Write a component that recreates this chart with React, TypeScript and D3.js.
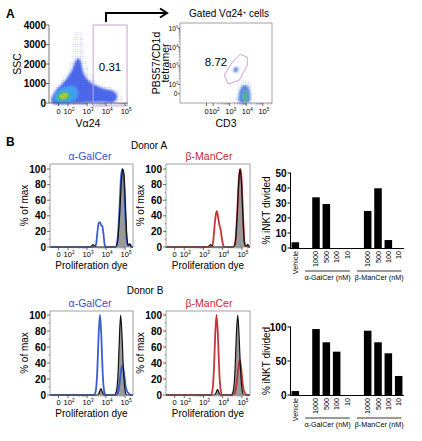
import React from 'react';
import * as d3 from 'd3';

const FONT = '"Liberation Sans", Arial, Helvetica, sans-serif';

// ---------------- Panel A (left): Va24 vs SSC ----------------
const sscTicks = [0, 1000, 2000, 3000, 4000];
const logTickPos = [1.5, 2, 3, 4, 5];
const logTickLabels = ['0', '2', '3', '4', '5'];
const va24GateX = [3.32, 5.1];
const va24GateY = [-150, 4000];
const va24GateLabel = '0.31';
const sscSparse: [number, number][] = [
  [1.11, 0], [1.11, 359], [1.32, 769], [1.68, 1282], [2.0, 1692], [2.16, 2205], [2.21, 2974],
  [2.32, 3487], [2.47, 3692], [2.68, 3590], [2.84, 3128], [2.89, 2462], [3.05, 1897], [3.32, 1385],
  [3.68, 974], [4.21, 821], [4.63, 667], [4.84, 359], [4.74, 0],
];
const sscBlue: [number, number][] = [
  [1.16, 0], [1.16, 308], [1.37, 667], [1.68, 974], [1.95, 1282], [2.21, 1692], [2.37, 2103],
  [2.53, 2308], [2.68, 2103], [2.79, 1590], [3.05, 1179], [3.42, 923], [3.95, 718], [4.37, 615],
  [4.58, 359], [4.42, 51], [3.68, 51], [2.63, 0],
];
const sscCyan: [number, number][] = [
  [1.26, 154], [1.32, 462], [1.53, 667], [1.84, 821], [2.16, 872], [2.42, 769], [2.53, 513],
  [2.42, 205], [2.11, 51], [1.58, 51],
];
const sscGreen: [number, number][] = [
  [1.42, 205], [1.47, 410], [1.68, 564], [1.95, 564], [2.11, 462], [2.05, 256], [1.79, 154], [1.53, 154],
];
const sscYellow: [number, number][] = [
  [1.58, 308], [1.68, 410], [1.84, 462], [1.95, 410], [1.89, 308], [1.74, 256],
];
const sscRed: [number, number][] = [[1.68, 333], [1.79, 410], [1.87, 385], [1.79, 308]];

// ---------------- Panel A (right): CD3 vs tetramer ----------------
const tetGate: [number, number][] = [
  [3.15, 3.19], [3.64, 3.62], [4.06, 3.46], [4.06, 3.03], [3.58, 2.23], [2.91, 2.02], [2.67, 2.5],
];
const tetGateLabel = '8.72';
const tetSparse: [number, number][] = [
  [3.39, 1.0], [3.45, 1.59], [3.64, 2.02], [3.88, 2.23], [4.18, 2.12], [4.36, 1.8], [4.42, 1.37], [4.36, 1.0],
];
const tetBlue: [number, number][] = [
  [3.58, 1.05], [3.58, 1.59], [3.76, 1.91], [4.0, 1.96], [4.18, 1.75], [4.24, 1.37], [4.18, 1.05],
];
const tetGreen: [number, number][] = [
  [3.82, 1.16], [3.82, 1.53], [3.94, 1.7], [4.06, 1.53], [4.06, 1.16], [3.94, 1.05],
];
const tetGated: [number, number][] = [[3.21, 2.76], [3.33, 2.93], [3.52, 2.87], [3.45, 2.66], [3.27, 2.66]];

// ---------------- Panel B: histograms (log units, % of max) ----------------
const histTicks = [0, 20, 40, 60, 80, 100];
const ctrlA_ag: [number, number][] = [
  [1.05, 0], [3.15, 0], [3.25, 1.5], [3.32, 3], [3.4, 1.5], [3.5, 0], [4.5, 0], [4.6, 6], [4.7, 35],
  [4.8, 80], [4.88, 100], [4.95, 92], [5.03, 50], [5.1, 12], [5.17, 2], [5.23, 3], [5.28, 3], [5.34, 0], [5.42, 0],
];
const treatA_ag: [number, number][] = [
  [1.05, 0], [3.4, 0], [3.48, 4], [3.55, 20], [3.62, 31], [3.68, 32], [3.74, 28], [3.8, 27], [3.86, 18],
  [3.92, 4], [3.98, 0], [4.5, 0], [4.6, 8], [4.7, 45], [4.79, 90], [4.86, 100], [4.93, 90], [5.0, 50],
  [5.08, 12], [5.15, 2], [5.22, 4], [5.28, 3], [5.35, 0], [5.42, 0],
];
const ctrlA_bm: [number, number][] = [
  [1.05, 0], [3.2, 0], [3.3, 1.5], [3.37, 3], [3.45, 1.5], [3.55, 0], [4.55, 0], [4.65, 5], [4.75, 40],
  [4.84, 85], [4.9, 100], [4.97, 85], [5.05, 40], [5.12, 8], [5.2, 1], [5.27, 2], [5.31, 3], [5.36, 1], [5.42, 0],
];
const treatA_bm: [number, number][] = [
  [1.05, 0], [3.42, 0], [3.5, 6], [3.58, 28], [3.66, 44], [3.7, 46], [3.76, 38], [3.83, 28], [3.88, 24],
  [3.95, 12], [4.03, 2], [4.1, 0], [4.55, 0], [4.65, 6], [4.75, 40], [4.84, 88], [4.91, 100], [4.98, 88],
  [5.06, 40], [5.13, 6], [5.2, 1], [5.28, 2], [5.35, 0], [5.42, 0],
];
const ctrlB_ag: [number, number][] = [
  [1.05, 0], [3.55, 0], [3.64, 3], [3.73, 8], [3.82, 3], [3.9, 0], [4.45, 0], [4.55, 5], [4.64, 30],
  [4.71, 75], [4.77, 100], [4.84, 75], [4.92, 30], [5.0, 6], [5.08, 0], [5.42, 0],
];
const treatB_ag: [number, number][] = [
  [1.05, 0], [3.38, 0], [3.46, 5], [3.54, 30], [3.61, 75], [3.68, 100], [3.75, 75], [3.82, 30], [3.9, 5],
  [3.98, 0], [4.55, 0], [4.65, 5], [4.74, 20], [4.82, 34], [4.87, 37], [4.95, 27], [5.04, 10], [5.12, 4],
  [5.2, 2], [5.28, 0], [5.42, 0],
];
const ctrlB_bm: [number, number][] = [
  [1.05, 0], [3.55, 0], [3.64, 2], [3.73, 7], [3.82, 2], [3.9, 0], [4.45, 0], [4.55, 5], [4.64, 30],
  [4.71, 75], [4.78, 100], [4.85, 75], [4.93, 30], [5.01, 6], [5.09, 0], [5.42, 0],
];
const treatB_bm: [number, number][] = [
  [1.05, 0], [3.38, 0], [3.46, 5], [3.54, 30], [3.61, 75], [3.68, 100], [3.75, 75], [3.82, 30], [3.9, 5],
  [3.98, 0], [4.55, 0], [4.65, 4], [4.75, 20], [4.84, 38], [4.89, 44], [4.96, 34], [5.05, 12], [5.12, 4],
  [5.2, 1], [5.28, 0], [5.42, 0],
];

// ---------------- Panel B: bar charts ----------------
const barSlots = ['Vehicle', 'gap1', 'α1000', 'α500', 'α100', 'α10', 'gap2', 'β1000', 'β500', 'β100', 'β10'];
const barKeys = ['Vehicle', 'α1000', 'α500', 'α100', 'α10', 'β1000', 'β500', 'β100', 'β10'];
const barLabels = ['Vehicle', '1000', '500', '100', '10', '1000', '500', '100', '10'];
const donorAValues = [3.8, 33.8, 29.3, 0, 0, 24.7, 39.8, 5.3, 0];
const donorBValues = [5.8, 97, 77.5, 63.7, 0, 94.6, 77.5, 61.3, 28];
const donorATicks = [0, 10, 20, 30, 40, 50];
const donorBTicks = [0, 50, 100];
const groupLabels = ['α-GalCer (nM)', 'β-ManCer (nM)'];
const groupFirst = ['α1000', 'β1000'];
const groupLast = ['α10', 'β10'];

const BLUE = '#2e55cf';
const RED = '#c32a2e';

function LogLabel({ x, y, label, size }: { x: number; y: number; label: string; size: number }) {
  if (label === '0') return <text x={x} y={y} fontSize={size} textAnchor="middle" fill="#000">0</text>;
  return (
    <text x={x} y={y} fontSize={size} textAnchor="middle" fill="#000">
      10<tspan dy={-size * 0.42} fontSize={size * 0.62}>{label}</tspan>
    </text>
  );
}

function minorLogs(lo: number, hi: number) {
  const out: number[] = [];
  for (let d = 2; d <= 5; d++) {
    for (let k = 2; k <= 9; k++) {
      const v = d + Math.log10(k);
      if (v > lo && v < hi) out.push(v);
    }
  }
  return out;
}

function LogXAxis({ scale, y, labelY, size }: { scale: any; y: number; labelY: number; size: number }) {
  const [lo, hi] = scale.domain();
  return (
    <g>
      {logTickPos.map((t, i) => (
        <g key={i}>
          <line x1={scale(t)} x2={scale(t)} y1={y} y2={y + 3} stroke="#333" strokeWidth={0.7} />
          <LogLabel x={scale(t) + (i === 0 ? 0 : 1)} y={labelY} label={logTickLabels[i]} size={size} />
        </g>
      ))}
      {minorLogs(lo, hi).map((v, i) => (
        <line key={'m' + i} x1={scale(v)} x2={scale(v)} y1={y} y2={y + 1.6} stroke="#555" strokeWidth={0.5} />
      ))}
    </g>
  );
}

function NumLabel({ x, y, v, size }: { x: number; y: number; v: number; size: number }) {
  return (
    <text x={x} y={y} fontSize={size} textAnchor="end" fontWeight="bold" fill="#000">{String(v)}</text>
  );
}

function Histogram({ x0, x1, y0, y1, yMax, ctrl, treat, color, title, titleX, titleY, id }: any) {
  const xs = d3.scaleLinear().domain([1.05, 5.42]).range([x0, x1]);
  const ys = d3.scaleLinear().domain([0, yMax]).range([y1, y0]);
  const line = d3.line<[number, number]>().x(d => xs(d[0])).y(d => ys(d[1])).curve(d3.curveMonotoneX);
  const area = d3.area<[number, number]>().x(d => xs(d[0])).y0(ys(0)).y1(d => ys(d[1])).curve(d3.curveMonotoneX);
  const minorY = [10, 30, 50, 70, 90];
  return (
    <g>
      <clipPath id={id}><rect x={x0} y={y0} width={x1 - x0} height={y1 - y0 + 1} /></clipPath>
      <text x={titleX} y={titleY} fontSize={10.5} fill={color} textAnchor="middle">{title}</text>
      <g clipPath={`url(#${id})`}>
        <path d={area(ctrl) || ''} fill="#9a9a9a" />
        <path d={line(treat) || ''} fill="none" stroke={color} strokeWidth={1.8} strokeOpacity={0.95} />
        <path d={line(ctrl) || ''} fill="none" stroke="#111" strokeWidth={1.2} />
      </g>
      <rect x={x0} y={y0} width={x1 - x0} height={y1 - y0} fill="none" stroke="#8a8a8a" strokeWidth={0.8} />
      {histTicks.map(t => (
        <g key={t}>
          <line x1={x0 - 3} x2={x0} y1={ys(t)} y2={ys(t)} stroke="#333" strokeWidth={0.7} />
          <NumLabel x={x0 - 4} y={ys(t) + 3.6} v={t} size={10} />
        </g>
      ))}
      {minorY.map(t => (
        <line key={'my' + t} x1={x0 - 1.6} x2={x0} y1={ys(t)} y2={ys(t)} stroke="#555" strokeWidth={0.5} />
      ))}
      <LogXAxis scale={xs} y={y1} labelY={y1 + 10} size={7.5} />
      <text x={(x0 + x1) / 2} y={y1 + 22} fontSize={10} textAnchor="middle" fill="#000">Proliferation dye</text>
      <text transform={`translate(${x0 - 22},${(y0 + y1) / 2}) rotate(-90)`} fontSize={10} textAnchor="middle" fill="#000">% of max</text>
    </g>
  );
}

function BarChart({ values, ticks, yMax, yZero, yTop, lineY }: any) {
  const xb = d3.scaleBand().domain(barSlots).range([290, 404]).paddingInner(0.27).paddingOuter(0.15);
  const ys = d3.scaleLinear().domain([0, yMax]).range([yZero, yTop]);
  const bw = xb.bandwidth();
  return (
    <g>
      {barKeys.map((k, i) => (
        <rect key={k} x={xb(k)} y={ys(values[i])} width={bw} height={yZero - ys(values[i])} fill="#000" />
      ))}
      <line x1={290.5} x2={290.5} y1={ys(yMax) - 0.5} y2={yZero + 1} stroke="#000" strokeWidth={1} />
      <line x1={290} x2={404} y1={yZero + 0.5} y2={yZero + 0.5} stroke="#000" strokeWidth={1} />
      {ticks.map((t: number) => (
        <g key={'t' + t}>
          <line x1={287.5} x2={290.5} y1={ys(t)} y2={ys(t)} stroke="#000" strokeWidth={1} />
          <NumLabel x={286.5} y={ys(t) + 3.6} v={t} size={10} />
        </g>
      ))}
      {barKeys.map((k, i) => (
        <text key={'l' + k} transform={`translate(${(xb(k) as number) + bw / 2 + 2.5},${yZero + 3}) rotate(-90)`} fontSize={7.2} textAnchor="end" fill="#000">{barLabels[i]}</text>
      ))}
      {groupLabels.map((g, i) => {
        const a = (xb(groupFirst[i]) as number) - 7;
        const b = (xb(groupLast[i]) as number) + bw - 1;
        return (
          <g key={g}>
            <line x1={a} x2={b} y1={lineY} y2={lineY} stroke="#000" strokeWidth={0.8} />
            <text x={(a + b) / 2} y={lineY + 9} fontSize={7.2} textAnchor="middle" fill="#000">{g}</text>
          </g>
        );
      })}
      <text transform={`translate(270,${(yZero + ys(yMax)) / 2}) rotate(-90)`} fontSize={10} textAnchor="middle" fill="#000">% iNKT divided</text>
    </g>
  );
}

export default function App() {
  const xA1 = d3.scaleLinear().domain([1.0, 5.15]).range([49, 128]);
  const yA1 = d3.scaleLinear().domain([0, 4000]).range([103, 25]);
  const closed = (xs: any, ys: any) =>
    d3.line<[number, number]>().x(d => xs(d[0])).y(d => ys(d[1])).curve(d3.curveCatmullRomClosed.alpha(0.5));
  const pA1 = closed(xA1, yA1);
  const xA2 = d3.scaleLinear().domain([0, 5.55]).range([180, 272]);
  const yA2 = d3.scaleLinear().domain([1.0, 5.3]).range([103, 23]);
  const pA2 = closed(xA2, yA2);
  const gateLine = d3.line<[number, number]>().x(d => xA2(d[0])).y(d => yA2(d[1])).curve(d3.curveLinearClosed);
  const tetMinor = minorLogs(1.0, 5.3);
  const xA2TickPos = [1.6, 2, 3, 4, 5];

  return (
    <svg width={422} height={441} style={{ position: 'absolute', left: 0, top: 0, background: '#fff' }} fontFamily={FONT}>
      <defs>
        <filter id="soft" x="-20%" y="-20%" width="140%" height="140%">
          <feGaussianBlur stdDeviation="0.9" />
        </filter>
        <pattern id="dots" width="2.4" height="2.4" patternUnits="userSpaceOnUse">
          <circle cx="1" cy="1" r="0.5" fill="#3a5ae8" />
        </pattern>
      </defs>
      <rect width={422} height={441} fill="#fff" />

      {/* ---------- A ---------- */}
      <text x={6} y={18} fontSize={12} fontWeight={700} fill="#000">A</text>
      <polyline points="106,22 106,13 166,13" fill="none" stroke="#000" strokeWidth={2} />
      <polyline points="160,8.5 167,13 160,17.5" fill="none" stroke="#000" strokeWidth={2} />
      <text x={229} y={17} fontSize={10} textAnchor="middle" fill="#000">
        Gated Vα24<tspan dy={-3.5} fontSize={6}>+</tspan><tspan dy={3.5}> cells</tspan>
      </text>

      <g>
        <path d={pA1(sscSparse) || ''} fill="url(#dots)" opacity={0.55} />
        <g filter="url(#soft)">
          <path d={pA1(sscBlue) || ''} fill="#2f4fe6" opacity={0.85} />
          <path d={pA1(sscCyan) || ''} fill="#3f9ff0" />
          <path d={pA1(sscGreen) || ''} fill="#3cc24a" />
          <path d={pA1(sscYellow) || ''} fill="#ecdf2e" />
          <path d={pA1(sscRed) || ''} fill="#e2431d" />
        </g>
      </g>
      <rect x={xA1(va24GateX[0])} y={yA1(va24GateY[1])} width={xA1(va24GateX[1]) - xA1(va24GateX[0])}
        height={yA1(va24GateY[0]) - yA1(va24GateY[1])} fill="none" stroke="#c9a3d6" strokeWidth={1} />
      <text x={110} y={71} fontSize={11.5} textAnchor="middle" fill="#000">{va24GateLabel}</text>
      <line x1={49} x2={49} y1={25} y2={103} stroke="#555" strokeWidth={0.8} />
      <line x1={49} x2={128} y1={103} y2={103} stroke="#555" strokeWidth={0.8} />
      {sscTicks.map(t => (
        <g key={'s' + t}>
          <line x1={46} x2={49} y1={yA1(t)} y2={yA1(t)} stroke="#333" strokeWidth={0.7} />
          <NumLabel x={46} y={yA1(t) + 3.6} v={t} size={10} />
        </g>
      ))}
      <LogXAxis scale={xA1} y={103} labelY={114} size={7.5} />
      <text x={88} y={127} fontSize={10.5} textAnchor="middle" fill="#000">Vα24</text>
      <text transform="translate(21,64) rotate(-90)" fontSize={10.5} textAnchor="middle" fill="#000">SSC</text>

      <g>
        <path d={pA2(tetSparse) || ''} fill="url(#dots)" opacity={0.65} />
        <g filter="url(#soft)">
          <path d={pA2(tetBlue) || ''} fill="#3a6ae0" opacity={0.8} />
          <path d={pA2(tetGreen) || ''} fill="#4fbf70" opacity={0.9} />
          <path d={pA2(tetGated) || ''} fill="#3d6fe0" opacity={0.8} />
        </g>
      </g>
      <path d={gateLine(tetGate) || ''} fill="none" stroke="#c9a3d6" strokeWidth={1} />
      <text x={216} y={66} fontSize={11.5} textAnchor="middle" fill="#000">{tetGateLabel}</text>
      <rect x={180} y={23} width={92} height={80} fill="none" stroke="#8a8a8a" strokeWidth={0.8} />
      {xA2TickPos.map((t, i) => (
        <g key={'xa2' + i}>
          <line x1={xA2(t)} x2={xA2(t)} y1={103} y2={106} stroke="#333" strokeWidth={0.7} />
          <LogLabel x={xA2(t) + (i === 0 ? 0 : 1)} y={114} label={logTickLabels[i]} size={7.5} />
        </g>
      ))}
      {minorLogs(0, 5.55).map((v, i) => (
        <line key={'xa2m' + i} x1={xA2(v)} x2={xA2(v)} y1={103} y2={104.6} stroke="#555" strokeWidth={0.5} />
      ))}
      {logTickPos.map((t, i) => (
        <g key={'ya2' + i}>
          <line x1={178} x2={180} y1={yA2(t)} y2={yA2(t)} stroke="#333" strokeWidth={0.7} />
          {logTickLabels[i] === '0' ? (
            <text x={177.5} y={yA2(t) + 2.5} fontSize={6.8} textAnchor="end" fill="#000">0</text>
          ) : (
            <text x={178.5} y={yA2(t) + 2.5} fontSize={6.8} textAnchor="end" fill="#000">
              10<tspan dy={-2.8} fontSize={4.3}>{logTickLabels[i]}</tspan>
            </text>
          )}
        </g>
      ))}
      {tetMinor.map((v, i) => (
        <line key={'ya2m' + i} x1={178.6} x2={180} y1={yA2(v)} y2={yA2(v)} stroke="#555" strokeWidth={0.5} />
      ))}
      <text x={226} y={127} fontSize={10.5} textAnchor="middle" fill="#000">CD3</text>
      <text transform="translate(159.5,63) rotate(-90)" fontSize={10.5} textAnchor="middle" fill="#000">PBS57/CD1d</text>
      <text transform="translate(168.5,63) rotate(-90)" fontSize={10.5} textAnchor="middle" fill="#000">tetramer</text>

      {/* ---------- B ---------- */}
      <text x={6} y={146} fontSize={12} fontWeight={700} fill="#000">B</text>
      <text x={149} y={149} fontSize={10} textAnchor="middle" fill="#000">Donor A</text>
      <text x={145} y={294} fontSize={10} textAnchor="middle" fill="#000">Donor B</text>

      <Histogram id="h1" x0={50} x1={133} y0={164} y1={247} yMax={106.4} ctrl={ctrlA_ag} treat={treatA_ag}
        color={BLUE} title="α-GalCer" titleX={90} titleY={160} />
      <Histogram id="h2" x0={166} x1={250} y0={164} y1={247} yMax={106.4} ctrl={ctrlA_bm} treat={treatA_bm}
        color={RED} title="β-ManCer" titleX={209} titleY={160} />
      <Histogram id="h3" x0={50} x1={133} y0={311} y1={395} yMax={105} ctrl={ctrlB_ag} treat={treatB_ag}
        color={BLUE} title="α-GalCer" titleX={90} titleY={307} />
      <Histogram id="h4" x0={166} x1={250} y0={311} y1={395} yMax={105} ctrl={ctrlB_bm} treat={treatB_bm}
        color={RED} title="β-ManCer" titleX={209} titleY={307} />

      <BarChart values={donorAValues} ticks={donorATicks} yMax={50} yZero={248} yTop={173} lineY={271} />
      <BarChart values={donorBValues} ticks={donorBTicks} yMax={100} yZero={395} yTop={327} lineY={418} />
    </svg>
  );
}
